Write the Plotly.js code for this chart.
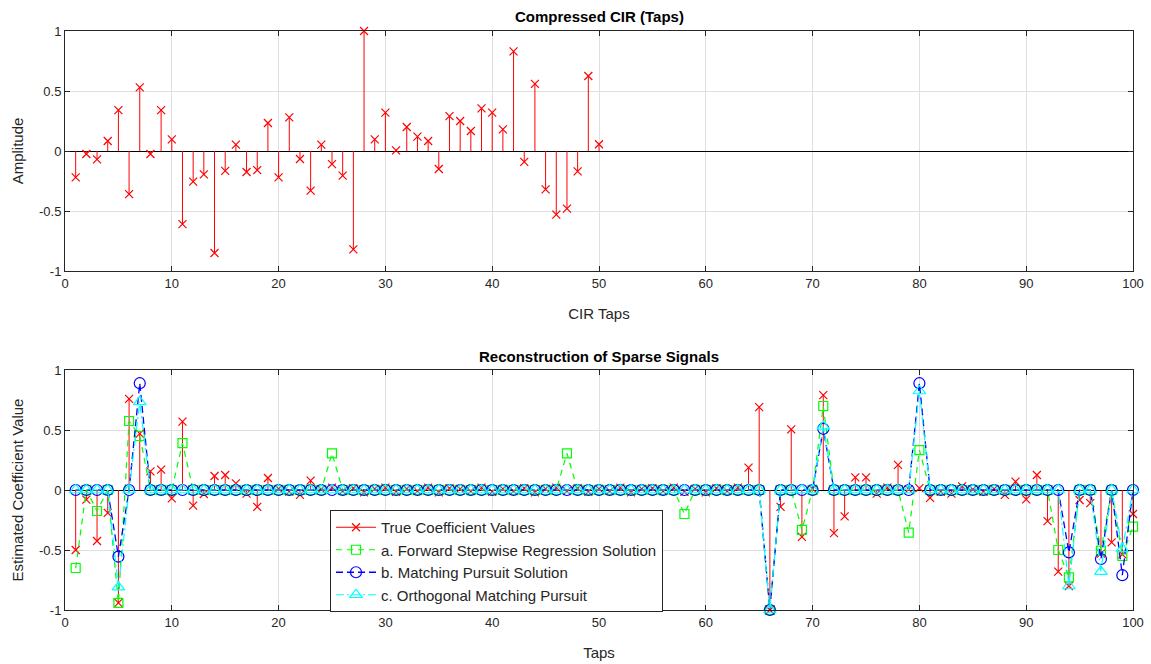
<!DOCTYPE html>
<html>
<head>
<meta charset="utf-8">
<script src="https://cdn.plot.ly/plotly-3.0.1.min.js"></script>
<style>
  html, body { margin: 0; padding: 0; background: #ffffff; }
  #chart { width: 1151px; height: 664px; }
</style>
</head>
<body>
<div id="chart"></div>
<script>
// ---------------- DATA ----------------
const cirTaps = Array.from({length: 50}, (_, i) => i + 1);
const cirAmplitude = [
  -0.22, -0.025, -0.07, 0.083, 0.34, -0.36, 0.53, -0.025, 0.34, 0.097,
  -0.61, -0.255, -0.195, -0.85, -0.165, 0.053, -0.175, -0.16, 0.233, -0.22,
  0.28, -0.067, -0.33, 0.053, -0.11, -0.205, -0.82, 1.0, 0.097, 0.32,
  0.005, 0.2, 0.12, 0.083, -0.15, 0.29, 0.25, 0.167, 0.355, 0.32,
  0.18, 0.83, -0.09, 0.56, -0.32, -0.53, -0.48, -0.17, 0.625, 0.056
];

const taps = Array.from({length: 100}, (_, i) => i + 1);
const trueCoef = [
  -0.5, -0.08, -0.425, -0.19, -0.94, 0.76, 0.47, 0.155, 0.17, -0.07,
  0.57, -0.13, -0.033, 0.117, 0.125, 0.055, -0.03, -0.14, 0.1, 0.01,
  -0.014, -0.04, 0.078, 0.005, 0.02, -0.01, 0.015, -0.02, 0.01, 0.02,
  -0.015, 0.01, -0.01, 0.02, -0.02, 0.015, 0.01, -0.01, 0.02, -0.015,
  0.01, -0.01, 0.015, -0.02, 0.01, 0.02, -0.01, 0.015, -0.015, 0.01,
  -0.01, 0.02, -0.02, 0.01, 0.015, -0.01, 0.02, -0.015, 0.01, -0.02,
  0.015, -0.01, 0.02, 0.186, 0.69, -1.0, -0.14, 0.505, -0.39, 0.01,
  0.79, -0.36, -0.22, 0.105, 0.105, -0.03, 0.02, 0.21, 0.005, 0.015,
  -0.065, -0.015, -0.03, 0.03, 0.005, -0.015, 0.01, -0.04, 0.07, -0.078,
  0.125, -0.26, -0.68, -0.8, -0.083, -0.11, -0.53, -0.436, -0.536, -0.2
];
const stepwiseCoef = [
  -0.65, 0, -0.175, 0, -0.94, 0.575, 0.45, 0, 0, 0,
  0.39, 0, 0, 0, 0, 0, 0, 0, 0, 0,
  0, 0, 0, 0, 0.305, 0, 0, 0, 0, 0,
  0, 0, 0, 0, 0, 0, 0, 0, 0, 0,
  0, 0, 0, 0, 0, 0, 0.305, 0, 0, 0,
  0, 0, 0, 0, 0, 0, 0, -0.2, 0, 0,
  0, 0, 0, 0, 0, -1.0, 0, 0, -0.333, 0,
  0.70, 0, 0, 0, 0, 0, 0, 0, -0.355, 0.333,
  0, 0, 0, 0, 0, 0, 0, 0, 0, 0,
  0, 0, -0.5, -0.728, 0, 0, -0.505, 0, -0.55, -0.305
];
const mpCoef = [
  0, 0, 0, 0, -0.555, 0, 0.89, 0, 0, 0,
  0, 0, 0, 0, 0, 0, 0, 0, 0, 0,
  0, 0, 0, 0, 0, 0, 0, 0, 0, 0,
  0, 0, 0, 0, 0, 0, 0, 0, 0, 0,
  0, 0, 0, 0, 0, 0, 0, 0, 0, 0,
  0, 0, 0, 0, 0, 0, 0, 0, 0, 0,
  0, 0, 0, 0, 0, -1.0, 0, 0, 0, 0,
  0.51, 0, 0, 0, 0, 0, 0, 0, 0, 0.89,
  0, 0, 0, 0, 0, 0, 0, 0, 0, 0,
  0, 0, 0, -0.52, 0, 0, -0.575, 0, -0.71, 0
];
const ompCoef = [
  0, 0, 0, 0, -0.81, 0, 0.735, 0, 0, 0,
  0, 0, 0, 0, 0, 0, 0, 0, 0, 0,
  0, 0, 0, 0, 0, 0, 0, 0, 0, 0,
  0, 0, 0, 0, 0, 0, 0, 0, 0, 0,
  0, 0, 0, 0, 0, 0, 0, 0, 0, 0,
  0, 0, 0, 0, 0, 0, 0, 0, 0, 0,
  0, 0, 0, 0, 0, -1.0, 0, 0, 0, 0,
  0.53, 0, 0, 0, 0, 0, 0, 0, 0, 0.825,
  0, 0, 0, 0, 0, 0, 0, 0, 0, 0,
  0, 0, 0, -0.8, 0, 0, -0.68, 0, -0.49, 0
];

const xTickVals = [0, 10, 20, 30, 40, 50, 60, 70, 80, 90, 100];
const xTickText = ['0', '10', '20', '30', '40', '50', '60', '70', '80', '90', '100'];
const yTickVals = [-1, -0.5, 0, 0.5, 1];
const yTickText = ['-1', '-0.5', '0', '0.5', '1'];

const legendNames = [
  'True Coefficient Values',
  'a. Forward Stepwise Regression Solution',
  'b. Matching Pursuit Solution',
  'c. Orthogonal Matching Pursuit'
];

// ---------------- HELPERS ----------------
function stemXY(xs, ys) {
  const sx = [], sy = [];
  xs.forEach((x, i) => { sx.push(x, x, null); sy.push(0, ys[i], null); });
  return {x: sx, y: sy};
}

const RED = '#ff0000', GREEN = '#00ff00', BLUE = '#0000ff', CYAN = '#00ffff';
const AX = '#262626', GRID = '#dfdfdf';
const FONT = 'Liberation Sans, Arial, sans-serif';

const topStem = stemXY(cirTaps, cirAmplitude);
const botStem = stemXY(taps, trueCoef);

const traces = [
  // top subplot
  {x: topStem.x, y: topStem.y, xaxis: 'x', yaxis: 'y', mode: 'lines',
   line: {color: RED, width: 1}, showlegend: false, hoverinfo: 'skip'},
  {x: cirTaps, y: cirAmplitude, xaxis: 'x', yaxis: 'y', mode: 'markers', cliponaxis: false,
   marker: {symbol: 'x-thin-open', size: 8, color: RED, line: {color: RED, width: 1.2}},
   showlegend: false},
  // bottom subplot
  {x: botStem.x, y: botStem.y, xaxis: 'x2', yaxis: 'y2', mode: 'lines',
   line: {color: RED, width: 1}, showlegend: false, hoverinfo: 'skip'},
  {x: taps, y: trueCoef, xaxis: 'x2', yaxis: 'y2', mode: 'markers', cliponaxis: false,
   marker: {symbol: 'x-thin-open', size: 8, color: RED, line: {color: RED, width: 1.2}},
   showlegend: false},
  // legend proxy for stem series
  {x: [null], y: [null], xaxis: 'x2', yaxis: 'y2', mode: 'lines+markers', name: legendNames[0],
   line: {color: RED, width: 1},
   marker: {symbol: 'x-thin-open', size: 8, color: RED, line: {color: RED, width: 1.2}}},
  {x: taps, y: stepwiseCoef, xaxis: 'x2', yaxis: 'y2', mode: 'lines+markers', name: legendNames[1],
   cliponaxis: false,
   line: {color: GREEN, width: 1.2, dash: '6px,5px'},
   marker: {symbol: 'square-open', size: 9, color: GREEN, line: {color: GREEN, width: 1.2}}},
  {x: taps, y: mpCoef, xaxis: 'x2', yaxis: 'y2', mode: 'lines+markers', name: legendNames[2],
   cliponaxis: false,
   line: {color: BLUE, width: 1.3, dash: '7px,4px'},
   marker: {symbol: 'circle-open', size: 11, color: BLUE, line: {color: BLUE, width: 1.2}}},
  {x: taps, y: ompCoef, xaxis: 'x2', yaxis: 'y2', mode: 'lines+markers', name: legendNames[3],
   cliponaxis: false,
   line: {color: CYAN, width: 1.2, dash: '8px,3px,2px,3px'},
   marker: {symbol: 'triangle-up-open', size: 11, color: CYAN, line: {color: CYAN, width: 1.2}}}
];

function xAxis(anchor, title) {
  return {
    domain: [65 / 1151, 1133 / 1151], anchor: anchor, range: [0, 100],
    tickmode: 'array', tickvals: xTickVals, ticktext: xTickText,
    ticks: 'inside', ticklen: 5, tickwidth: 1, tickcolor: AX,
    showline: true, linecolor: AX, linewidth: 1, mirror: 'ticks',
    showgrid: true, gridcolor: GRID, gridwidth: 1, zeroline: false,
    tickfont: {family: FONT, size: 13, color: AX},
    title: {text: title, font: {family: FONT, size: 15, color: AX}, standoff: 18},
    automargin: false, fixedrange: true
  };
}
function yAxis(domain, anchor, title) {
  return {
    domain: domain, anchor: anchor, range: [-1, 1],
    tickmode: 'array', tickvals: yTickVals, ticktext: yTickText,
    ticks: 'inside', ticklen: 5, tickwidth: 1, tickcolor: AX,
    showline: true, linecolor: AX, linewidth: 1, mirror: 'ticks',
    showgrid: true, gridcolor: GRID, gridwidth: 1,
    zeroline: true, zerolinecolor: '#000000', zerolinewidth: 1,
    tickfont: {family: FONT, size: 13, color: AX},
    title: {text: title, font: {family: FONT, size: 15, color: AX}, standoff: 11},
    automargin: false, fixedrange: true
  };
}

const layout = {
  width: 1151, height: 664,
  margin: {l: 0, r: 0, t: 0, b: 0},
  paper_bgcolor: '#ffffff', plot_bgcolor: '#ffffff',
  font: {family: FONT, color: AX},
  xaxis: xAxis('y', 'CIR Taps'),
  yaxis: yAxis([(664 - 271) / 664, (664 - 31) / 664], 'x', 'Amplitude'),
  xaxis2: xAxis('y2', 'Taps'),
  yaxis2: yAxis([(664 - 610) / 664, (664 - 370) / 664], 'x2', 'Estimated Coefficient Value'),
  showlegend: true,
  legend: {
    x: 330 / 1151, y: (664 - 510) / 664, xanchor: 'left', yanchor: 'top',
    bgcolor: '#ffffff', bordercolor: AX, borderwidth: 1,
    font: {family: FONT, size: 15, color: AX},
    tracegroupgap: 0, itemwidth: 40
  },
  annotations: [
    {text: '<b>Compressed CIR (Taps)</b>', xref: 'paper', yref: 'paper',
     x: 599 / 1151, y: 1 - 17 / 664, xanchor: 'center', yanchor: 'middle',
     showarrow: false, font: {family: FONT, size: 15, color: '#000000'}},
    {text: '<b>Reconstruction of Sparse Signals</b>', xref: 'paper', yref: 'paper',
     x: 599 / 1151, y: 1 - 356 / 664, xanchor: 'center', yanchor: 'middle',
     showarrow: false, font: {family: FONT, size: 15, color: '#000000'}}
  ],
  hovermode: false
};

Plotly.newPlot('chart', traces, layout, {displayModeBar: false, staticPlot: true});
</script>
</body>
</html>
